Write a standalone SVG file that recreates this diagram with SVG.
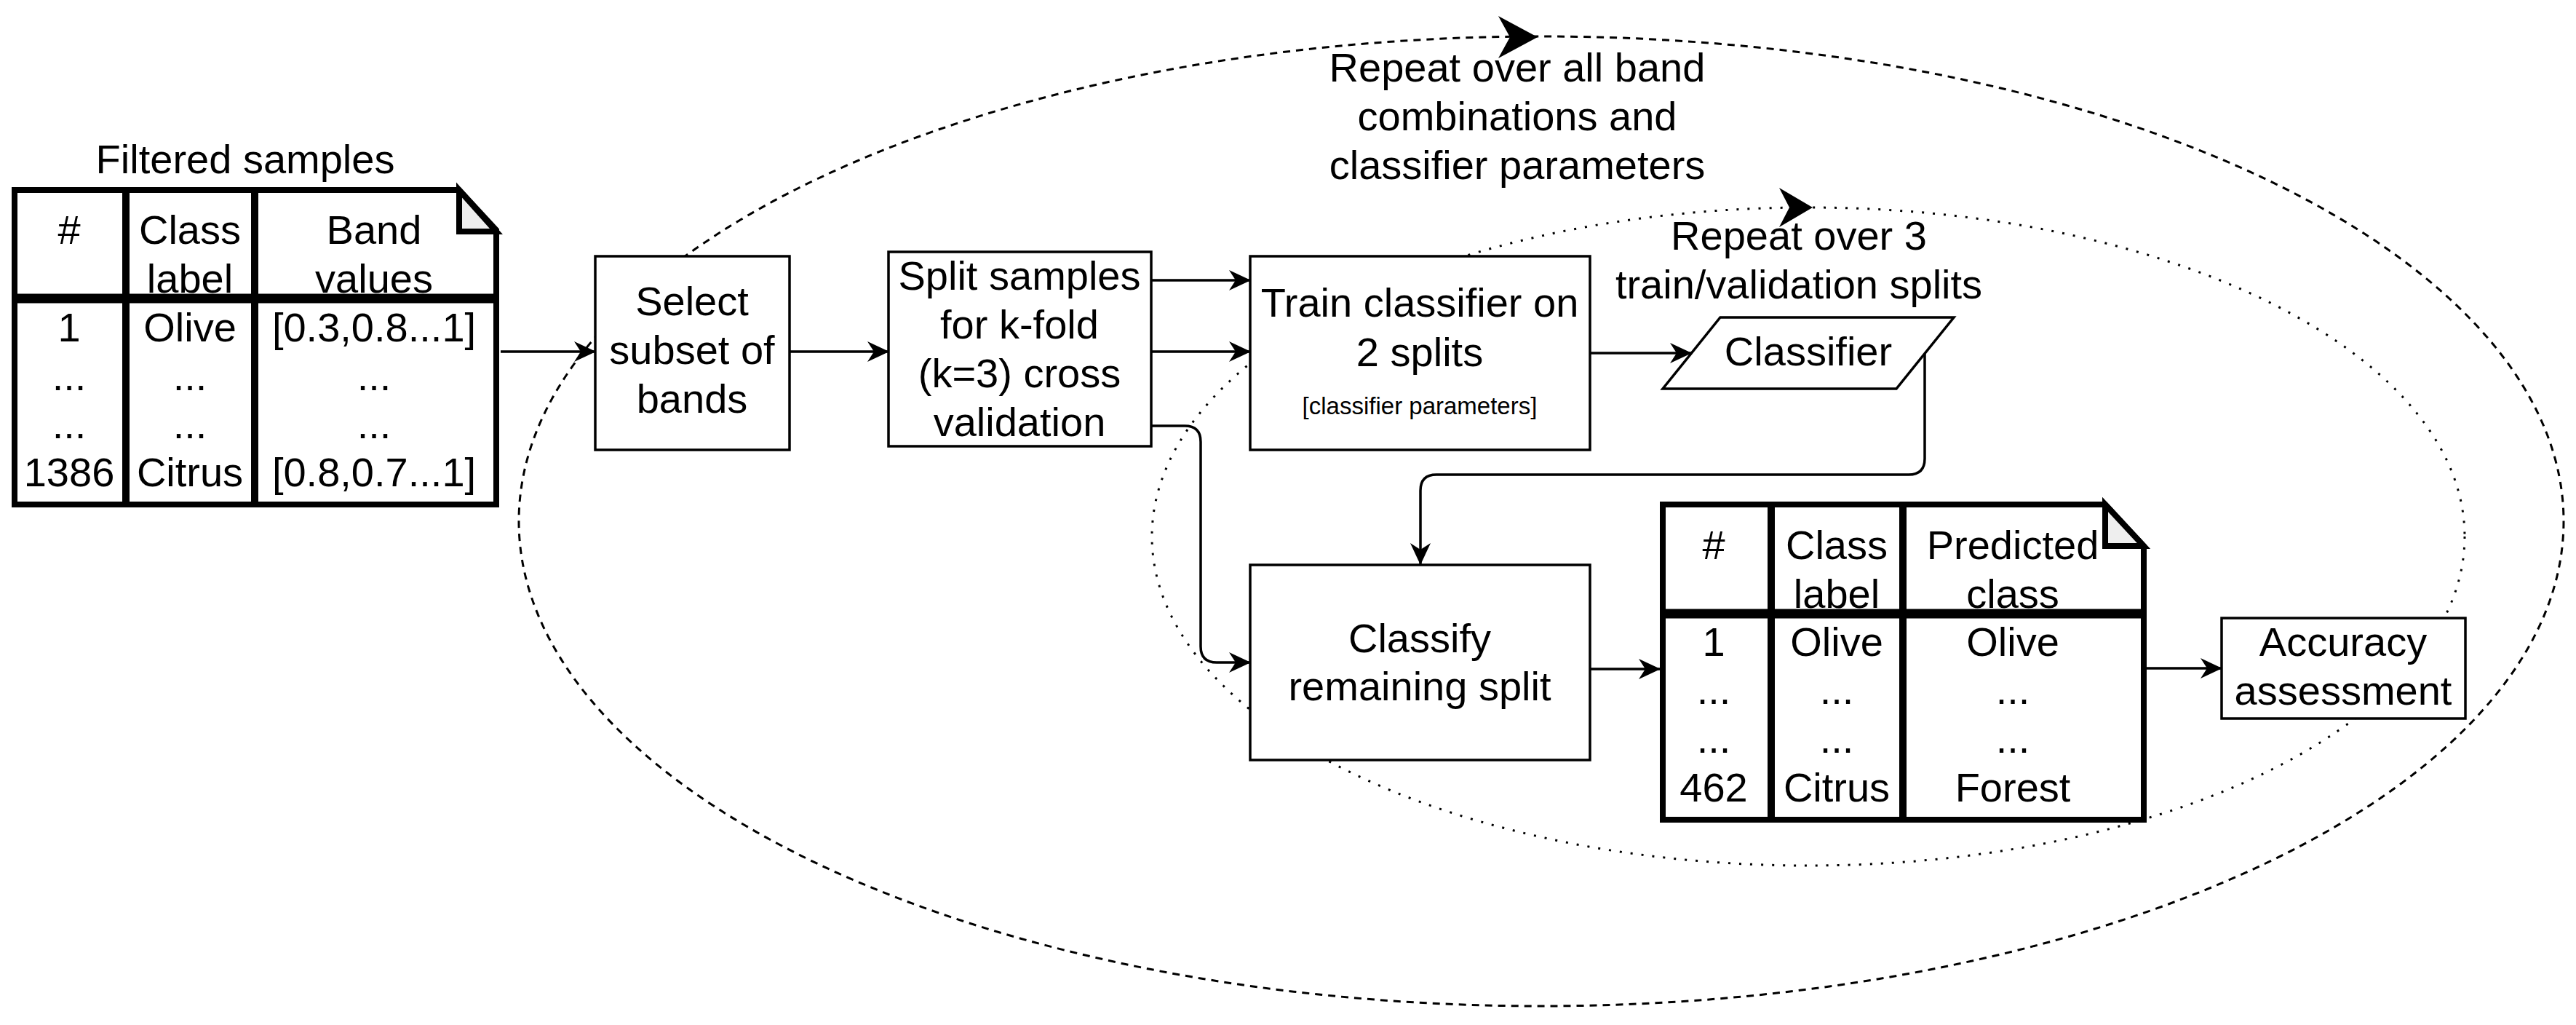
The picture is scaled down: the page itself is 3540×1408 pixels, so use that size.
<svg xmlns="http://www.w3.org/2000/svg" width="3540" height="1408" viewBox="0 0 3540 1408">
<style>
text{font-family:"Liberation Sans",Arial,Helvetica,sans-serif;fill:#000;text-anchor:middle}
.t{font-size:56px}
.s{font-size:33px}
.box{fill:#fff;stroke:#000;stroke-width:3.5}
.doc{fill:#fff;stroke:#000;stroke-width:8;stroke-linejoin:miter}
.fold{fill:#eeeeee;stroke:#000;stroke-width:8;stroke-linejoin:miter}
.col{stroke:#000;stroke-width:10}
.hdr{stroke:#000;stroke-width:13}
.edge{fill:none;stroke:#000;stroke-width:3.5}
.loop{fill:none;stroke:#000;stroke-width:3}
</style>
<defs>
<marker id="arr" viewBox="0 0 30 28" markerWidth="30" markerHeight="28" refX="29" refY="14" orient="auto" markerUnits="userSpaceOnUse">
<path d="M30,14 L0,0 L9,14 L0,28 Z" fill="#000"/>
</marker>
</defs>
<rect width="3540" height="1408" fill="#fff"/>
<g id="loops">
<ellipse id="outer-loop" class="loop" cx="2118" cy="716" rx="1405" ry="666" stroke-dasharray="10 8"/>
<path d="M2113,51 L2059,22 L2075,51 L2059,80 Z" fill="#000"/>
<ellipse id="inner-loop" class="loop" cx="2485" cy="737" rx="902" ry="452" stroke-dasharray="3 12"/>
<path d="M2491,285 L2445,258 L2459,285 L2445,312 Z" fill="#000"/>
</g>
<g id="connectors">
<line class="edge" x1="688" y1="483" x2="818" y2="483" marker-end="url(#arr)"/>
<line class="edge" x1="1085" y1="483" x2="1221" y2="483" marker-end="url(#arr)"/>
<line class="edge" x1="1582" y1="385" x2="1718" y2="385" marker-end="url(#arr)"/>
<line class="edge" x1="1582" y1="483" x2="1718" y2="483" marker-end="url(#arr)"/>
<line class="edge" x1="2185" y1="485" x2="2324" y2="485" marker-end="url(#arr)"/>
<path class="edge" d="M2645,485 V630 Q2645,652 2623,652 H1974 Q1952,652 1952,674 V775" marker-end="url(#arr)"/>
<path class="edge" d="M1582,585 H1628 Q1650,585 1650,607 V888 Q1650,910 1672,910 H1718" marker-end="url(#arr)"/>
<line class="edge" x1="2185" y1="919" x2="2281" y2="919" marker-end="url(#arr)"/>
<line class="edge" x1="2950" y1="918" x2="3053" y2="918" marker-end="url(#arr)"/>
</g>
<g id="filtered-samples">
<text class="t" x="337" y="238">Filtered samples</text>
<path class="doc" d="M20,261 H631 L682,316 V693 H20 Z"/>
<path class="fold" d="M631,261 V318 H682 Z"/>
<line class="col" x1="173" y1="261" x2="173" y2="693"/>
<line class="col" x1="350" y1="261" x2="350" y2="693"/>
<line class="hdr" x1="20" y1="410" x2="682" y2="410"/>
<text class="t" x="95" y="335">#</text>
<text class="t" x="261" y="335">Class</text>
<text class="t" x="261" y="402">label</text>
<text class="t" x="514" y="335">Band</text>
<text class="t" x="514" y="402">values</text>
<text class="t" x="95" y="469">1</text>
<text class="t" x="95" y="536">...</text>
<text class="t" x="95" y="602">...</text>
<text class="t" x="95" y="668">1386</text>
<text class="t" x="261" y="469">Olive</text>
<text class="t" x="261" y="536">...</text>
<text class="t" x="261" y="602">...</text>
<text class="t" x="261" y="668">Citrus</text>
<text class="t" x="514" y="469">[0.3,0.8...1]</text>
<text class="t" x="514" y="536">...</text>
<text class="t" x="514" y="602">...</text>
<text class="t" x="514" y="668">[0.8,0.7...1]</text>
</g>
<g id="select-bands">
<rect class="box" x="818" y="352" width="267" height="266"/>
<text class="t" x="951" y="433">Select</text>
<text class="t" x="951" y="500">subset of</text>
<text class="t" x="951" y="567">bands</text>
</g>
<g id="split-samples">
<rect class="box" x="1221" y="346" width="361" height="267"/>
<text class="t" x="1401" y="398">Split samples</text>
<text class="t" x="1401" y="465">for k-fold</text>
<text class="t" x="1401" y="532">(k=3) cross</text>
<text class="t" x="1401" y="599">validation</text>
</g>
<g id="train-classifier">
<rect class="box" x="1718" y="352" width="467" height="266"/>
<text class="t" x="1951" y="435">Train classifier on</text>
<text class="t" x="1951" y="503">2 splits</text>
<text class="s" x="1951" y="569">[classifier parameters]</text>
</g>
<g id="classifier">
<path class="box" d="M2364,436 H2685 L2606,534 H2285 Z"/>
<text class="t" x="2485" y="502">Classifier</text>
</g>
<g id="classify-remaining">
<rect class="box" x="1718" y="776" width="467" height="268"/>
<text class="t" x="1951" y="896">Classify</text>
<text class="t" x="1951" y="962">remaining split</text>
</g>
<g id="predicted-table">
<path class="doc" d="M2285,693 H2893 L2946,750 V1126 H2285 Z"/>
<path class="fold" d="M2893,693 V750 H2946 Z"/>
<line class="col" x1="2434" y1="693" x2="2434" y2="1126"/>
<line class="col" x1="2615" y1="693" x2="2615" y2="1126"/>
<line class="hdr" x1="2285" y1="843" x2="2946" y2="843"/>
<text class="t" x="2355" y="768">#</text>
<text class="t" x="2524" y="768">Class</text>
<text class="t" x="2524" y="835">label</text>
<text class="t" x="2766" y="768">Predicted</text>
<text class="t" x="2766" y="835">class</text>
<text class="t" x="2355" y="901">1</text>
<text class="t" x="2355" y="967">...</text>
<text class="t" x="2355" y="1034">...</text>
<text class="t" x="2355" y="1101">462</text>
<text class="t" x="2524" y="901">Olive</text>
<text class="t" x="2524" y="967">...</text>
<text class="t" x="2524" y="1034">...</text>
<text class="t" x="2524" y="1101">Citrus</text>
<text class="t" x="2766" y="901">Olive</text>
<text class="t" x="2766" y="967">...</text>
<text class="t" x="2766" y="1034">...</text>
<text class="t" x="2766" y="1101">Forest</text>
</g>
<g id="accuracy">
<rect class="box" x="3053" y="849" width="335" height="138"/>
<text class="t" x="3220" y="901">Accuracy</text>
<text class="t" x="3220" y="968">assessment</text>
</g>
<g id="labels">
<text class="t" x="2085" y="112">Repeat over all band</text>
<text class="t" x="2085" y="179">combinations and</text>
<text class="t" x="2085" y="246">classifier parameters</text>
<text class="t" x="2472" y="343">Repeat over 3</text>
<text class="t" x="2472" y="410">train/validation splits</text>
</g>
</svg>
